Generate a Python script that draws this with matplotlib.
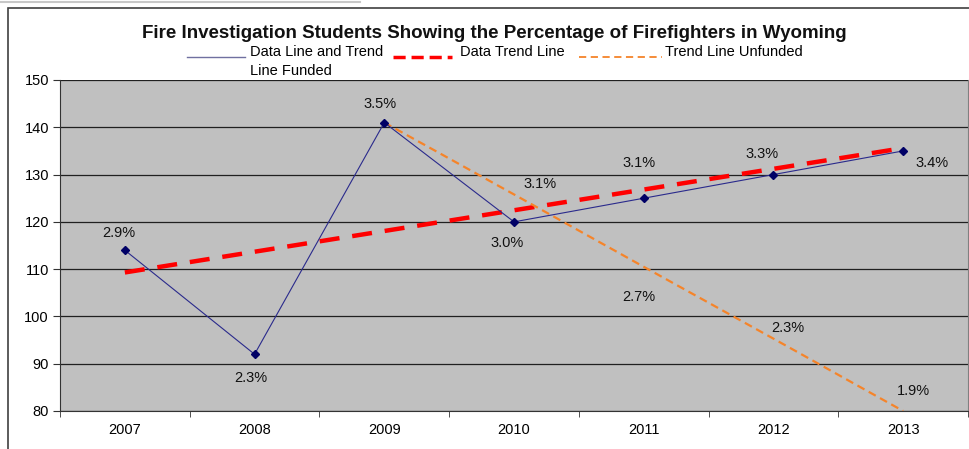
import matplotlib
matplotlib.use("Agg")
import matplotlib.pyplot as plt
from matplotlib.lines import Line2D
from matplotlib.patches import Rectangle

plt.rcParams['font.family'] = ['Liberation Sans', 'DejaVu Sans']

years = ['2007', '2008', '2009', '2010', '2011', '2012', '2013']
funded = [114, 92, 141, 120, 125, 130, 135]
trend_years = ['2007', '2013']
trend_vals = [109.3, 135.6]
unfunded_years = ['2009', '2010', '2011', '2012', '2013']
unfunded_vals = [141, 125.8, 110.5, 95.3, 80]

funded_labels = ['2.9%', '2.3%', '3.5%', '3.0%', '3.1%', '3.3%', '3.4%']
unfunded_labels = ['3.1%', '2.7%', '2.3%', '1.9%']
unfunded_label_years = ['2010', '2011', '2012', '2013']

title = 'Fire Investigation Students Showing the Percentage of Firefighters in Wyoming'

W, H = 969, 449
fig = plt.figure(figsize=(W / 100, H / 100), dpi=100)
fig.patch.set_facecolor('white')

# outer frame
fig.add_artist(Rectangle((8 / W, -0.01), 1.02 - 8 / W, 1 - 8 / H + 0.01,
                         transform=fig.transFigure, fill=False,
                         edgecolor='#404040', lw=1.2))
fig.add_artist(Line2D([0, 360 / W], [1 - 1.5 / H, 1 - 1.5 / H],
                      transform=fig.transFigure, color='#c8c8c8', lw=1.5))

ax = fig.add_axes([60 / W, 1 - 411 / H, 908 / W, 331 / H])
ax.set_facecolor('#C0C0C0')

idx = {y: i for i, y in enumerate(years)}

for v in range(80, 151, 10):
    ax.axhline(v, color='#202020', lw=0.9, zorder=1)

ax.plot([idx[y] for y in trend_years], trend_vals, color='#FF0000', lw=3.2,
        dashes=(4.5, 2.9), zorder=3)
ax.plot([idx[y] for y in unfunded_years], unfunded_vals, color='#F5842A',
        lw=1.6, dashes=(3.6, 2.2), zorder=3)
ax.plot(range(len(years)), funded, color='#2A2A8C', lw=0.8, marker='D',
        markersize=4, markerfacecolor='#000066', markeredgecolor='#000066',
        zorder=4)

LFS = 10.5
# funded data labels (offsets in points)
f_off = [(-4.3, 12.2), (-2.9, -17.3), (-2.9, 13.3), (-5, -15), (-3.6, 25),
         (-7.9, 14.5), (20.7, -8.9)]
for i, (lab, (dx, dy)) in enumerate(zip(funded_labels, f_off)):
    ax.annotate(lab, (i, funded[i]), xytext=(dx, dy), textcoords='offset points',
                ha='center', va='center', fontsize=LFS, color='#111111', zorder=5)

u_off = [(18.7, 7.4), (-3.4, -21.4), (10.3, 7.6), (7.4, 14.4)]
uvals = dict(zip(unfunded_years, unfunded_vals))
for lab, y, (dx, dy) in zip(unfunded_labels, unfunded_label_years, u_off):
    ax.annotate(lab, (idx[y], uvals[y]), xytext=(dx, dy), textcoords='offset points',
                ha='center', va='center', fontsize=LFS, color='#111111', zorder=5)

ax.set_xlim(-0.5, 6.5)
ax.set_ylim(80, 150)
ax.set_yticks(range(80, 151, 10))
ax.set_xticks(range(len(years)))
ax.set_xticklabels(years)
ax.set_xticks([i - 0.5 for i in range(len(years) + 1)], minor=True)
ax.tick_params(axis='x', which='major', length=0, pad=9, labelsize=10.5)
ax.tick_params(axis='x', which='minor', length=4, direction='out', color='#333333')
ax.tick_params(axis='y', length=5, direction='out', labelsize=10.5, pad=3, color='#333333')
ax.spines['top'].set_visible(False)
ax.spines['right'].set_color('#808080')
ax.spines['left'].set_color('#333333')
ax.spines['bottom'].set_color('#333333')

# title
fig.text(494 / W, 1 - 33 / H, title, ha='center', va='center', fontsize=13.5,
         fontweight='bold', color='#111111')

# legend (manual)
def fy(y):
    return 1 - y / H

LGS = 10.5
fig.add_artist(Line2D([187 / W, 245 / W], [fy(57), fy(57)], color='#7070A0', lw=1.0))
fig.text(250 / W, fy(52), 'Data Line and Trend', ha='left', va='center', fontsize=LGS)
fig.text(250 / W, fy(71), 'Line Funded', ha='left', va='center', fontsize=LGS)
fig.add_artist(Line2D([393 / W, 452 / W], [fy(57), fy(57)], color='#FF0000', lw=2.5,
                      dashes=(3.5, 1.7)))
fig.text(460 / W, fy(52), 'Data Trend Line', ha='left', va='center', fontsize=LGS)
fig.add_artist(Line2D([579 / W, 662 / W], [fy(57), fy(57)], color='#F5842A', lw=1.3,
                      dashes=(4, 2.5)))
fig.text(665 / W, fy(52), 'Trend Line Unfunded', ha='left', va='center', fontsize=LGS)

fig.savefig('out.png', dpi=100)
